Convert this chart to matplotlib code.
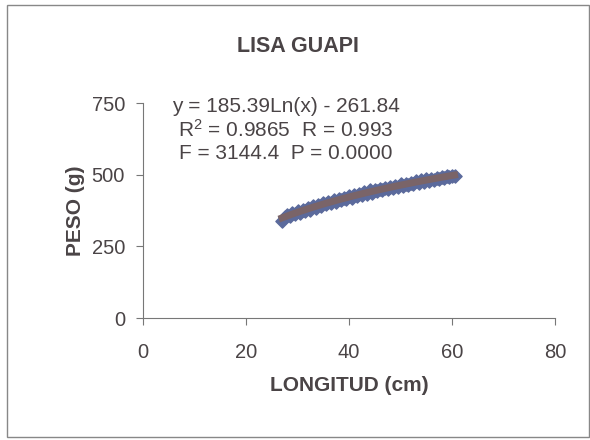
import numpy as np
import matplotlib.pyplot as plt
from matplotlib.patches import Rectangle

# longitud (cm) y peso (g)
longitud = [27.0, 27.5, 28.0, 28.5, 29.0, 29.5, 30.0, 30.5, 31.0, 31.5,
            32.0, 32.5, 33.0, 33.5, 34.0, 34.5, 35.0, 35.5, 36.0, 36.5,
            37.0, 37.5, 38.0, 38.5, 39.0, 39.5, 40.0, 40.5, 41.0, 41.5,
            42.0, 42.5, 43.0, 43.5, 44.0, 44.5, 45.0, 45.5, 46.0, 46.5,
            47.0, 47.5, 48.0, 48.5, 49.0, 49.5, 50.0, 50.5, 51.0, 51.5,
            52.0, 52.5, 53.0, 53.5, 54.0, 54.5, 55.0, 55.5, 56.0, 56.5,
            57.0, 57.5, 58.0, 58.5, 59.0, 59.5, 60.0, 60.5]
peso = [340, 352, 361, 356, 368, 362, 373, 367, 377, 372,
        384, 378, 389, 385, 394, 390, 400, 396, 405, 400,
        410, 405, 415, 410, 420, 414, 425, 419, 429, 424,
        433, 428, 438, 433, 445, 437, 448, 442, 451, 446,
        455, 450, 458, 454, 462, 457, 466, 461, 469, 465,
        472, 468, 477, 472, 480, 475, 484, 478, 486, 482,
        489, 485, 492, 488, 495, 491, 497, 496]

# coeficientes de la ecuacion mostrada
a, b = 185.39, -261.84

text_col = '#4a4446'

fig = plt.figure(figsize=(5.9, 4.4), dpi=100)
plt.rcParams['font.family'] = ['Liberation Sans', 'DejaVu Sans']
ax = fig.add_axes([143 / 590, 1 - 318 / 440, (555 - 143) / 590, (318 - 103) / 440])

ax.scatter(longitud, peso, marker='D', s=45, color='#5b6a9c', edgecolors='#5b6a9c', zorder=2)
xt = np.linspace(min(longitud), max(longitud), 100)
ax.plot(xt, a * np.log(xt) + b, color='#7a6468', lw=5, zorder=3)

ax.set_xlim(0, 80)
ax.set_ylim(0, 750)
ax.set_xticks([0, 20, 40, 60, 80])
ax.set_yticks([0, 250, 500, 750])
for s in ['top', 'right']:
    ax.spines[s].set_visible(False)
for s in ['left', 'bottom']:
    ax.spines[s].set_color('#777777')
ax.tick_params(direction='out', length=5, color='#777777', labelsize=14.5,
               labelcolor=text_col)
ax.tick_params(axis='x', pad=13)
ax.tick_params(axis='y', pad=8)

ax.set_xlabel('LONGITUD (cm)', fontsize=15, fontweight='bold', color=text_col, labelpad=10)
ax.set_ylabel('PESO (g)', fontsize=15, fontweight='bold', color=text_col, labelpad=5)

fig.text(0.505, 1 - 47 / 440, 'LISA GUAPI', ha='center', va='center',
         fontsize=15.5, fontweight='bold', color=text_col)
eq = 'y = 185.39Ln(x) - 261.84\n$\\mathregular{R^2}$ = 0.9865  R = 0.993\nF = 3144.4  P = 0.0000'
fig.text(286 / 590, 1 - 130 / 440, eq, ha='center', va='center', fontsize=15,
         color=text_col, linespacing=1.2)

fig.patches.append(Rectangle((7 / 590, 3 / 440), 582 / 590, 432 / 440, transform=fig.transFigure,
                             fill=False, edgecolor='#888888', lw=1))

fig.savefig('out.png', dpi=100)
